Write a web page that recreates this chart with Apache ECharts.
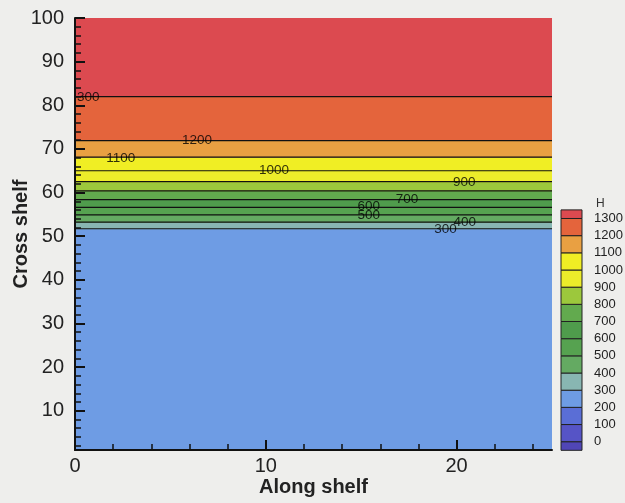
<!DOCTYPE html>
<html>
<head>
<meta charset="utf-8">
<script src="https://cdn.jsdelivr.net/npm/echarts@6/dist/echarts.min.js"></script>
<style>
html,body{margin:0;padding:0;background:#eeeeec;}
#chart{width:625px;height:503px;}
</style>
</head>
<body>
<div id="chart"></div>
<script>
// ---- data ----
const alongRange = [0, 25];
const crossRange = [1, 100];
// contour levels of H and the cross-shelf position where each sits
const hLevels = [300, 400, 500, 600, 700, 800, 900, 1000, 1100, 1200, 1300];
const levelCross = [51.7, 53.2, 54.9, 56.6, 58.4, 60.4, 62.5, 65.0, 68.1, 71.9, 82.0];
// contour labels as they appear
const labelText = ['300', '400', '500', '600', '700', '900', '1000', '1100', '1200', '300'];
const labelAlong = [19.42, 20.43, 15.39, 15.39, 17.4, 20.4, 10.43, 2.4, 6.39, 0.7];
const labelCross = [51.6, 53.2, 54.8, 56.9, 58.4, 62.4, 65.0, 67.8, 71.9, 81.9];
// colour bar
const barEdges = [-50, 0, 100, 200, 300, 400, 500, 600, 700, 800, 900, 1000, 1100, 1200, 1300, 1350];
const barTicks = [0, 100, 200, 300, 400, 500, 600, 700, 800, 900, 1000, 1100, 1200, 1300];
const barColors = ['#5046b6', '#5654c6', '#5a6ed6', '#6e9ce4', '#88b6b2', '#64aa62', '#56a250',
                   '#4f9c4c', '#62aa4e', '#9cc83c', '#ecec2a', '#f0ee24', '#e9a042', '#e4643c', '#dc4a50'];
// axis ticks
const xMajor = [0, 10, 20];
const xMinor = [2, 4, 6, 8, 12, 14, 16, 18, 22, 24];
const yMajor = [10, 20, 30, 40, 50, 60, 70, 80, 90, 100];
const yMinor = [2, 4, 6, 8, 12, 14, 16, 18, 22, 24, 26, 28, 32, 34, 36, 38, 42, 44, 46, 48,
                52, 54, 56, 58, 62, 64, 66, 68, 72, 74, 76, 78, 82, 84, 86, 88, 92, 94, 96, 98];

// bands of the field between contour lines
const bandEdges = [crossRange[0]].concat(levelCross, [crossRange[1]]);
const bandData = [];
for (let i = 0; i < bandEdges.length - 1; i++) {
  // lowest band is 200-300 (colour index 3)
  bandData.push([bandEdges[i], bandEdges[i + 1], i + 3]);
}
const barData = [];
for (let i = 0; i < barEdges.length - 1; i++) barData.push([barEdges[i], barEdges[i + 1], i]);
const labelData = labelText.map((t, i) => [labelAlong[i], labelCross[i], t]);

const FONT = '"Liberation Sans", Arial, sans-serif';
const plain = v => String(v);
const chart = echarts.init(document.getElementById('chart'));
chart.setOption({
  backgroundColor: '#eeeeec',
  animation: false,
  grid: [
    {left: 75, top: 18, width: 477, height: 432, containLabel: false, outerBoundsMode: 'none'},
    {left: 561, top: 209.9, width: 21, height: 240.4, containLabel: false, outerBoundsMode: 'none'}
  ],
  xAxis: [
    {gridIndex: 0, type: 'value', min: alongRange[0], max: alongRange[1], position: 'bottom', z: 10,
     axisLine: {onZero: false, lineStyle: {color: '#111', width: 2}},
     axisTick: {inside: true, length: 10, lineStyle: {color: '#111', width: 2}, customValues: xMajor},
     axisLabel: {customValues: xMajor, fontSize: 20, color: '#222', margin: 6, fontFamily: FONT, formatter: plain},
     splitLine: {show: false},
     name: 'Along shelf', nameLocation: 'middle', nameGap: 27, nameMoveOverlap: false,
     nameTextStyle: {fontSize: 20, fontWeight: 'bold', color: '#222', fontFamily: FONT}},
    {gridIndex: 0, type: 'value', min: alongRange[0], max: alongRange[1], position: 'bottom', z: 10,
     axisLine: {show: false, onZero: false},
     axisTick: {inside: true, length: 6, lineStyle: {color: '#111', width: 1.5}, customValues: xMinor},
     axisLabel: {show: false}, splitLine: {show: false}},
    {gridIndex: 1, type: 'value', min: 0, max: 1, show: false}
  ],
  yAxis: [
    {gridIndex: 0, type: 'value', min: crossRange[0], max: crossRange[1], position: 'left', z: 10,
     axisLine: {onZero: false, lineStyle: {color: '#111', width: 2}},
     axisTick: {inside: true, length: 10, lineStyle: {color: '#111', width: 2}, customValues: yMajor},
     axisLabel: {customValues: yMajor, fontSize: 20, color: '#222', margin: 11, fontFamily: FONT, formatter: plain},
     splitLine: {show: false},
     name: 'Cross shelf', nameLocation: 'middle', nameGap: 44, nameMoveOverlap: false,
     nameTextStyle: {fontSize: 20, fontWeight: 'bold', color: '#222', fontFamily: FONT}},
    {gridIndex: 0, type: 'value', min: crossRange[0], max: crossRange[1], position: 'left', z: 10,
     axisLine: {show: false, onZero: false},
     axisTick: {inside: true, length: 6, lineStyle: {color: '#111', width: 1.5}, customValues: yMinor},
     axisLabel: {show: false}, splitLine: {show: false}},
    {gridIndex: 1, type: 'value', min: barEdges[0], max: barEdges[barEdges.length - 1], position: 'right',
     axisLine: {show: false}, axisTick: {show: false}, splitLine: {show: false},
     axisLabel: {customValues: barTicks, fontSize: 13, color: '#222', margin: 12, fontFamily: FONT, formatter: plain}}
  ],
  graphic: [
    {type: 'text', left: 596, top: 198, z: 20,
     style: {text: 'H', fontSize: 12, fill: '#333', fontFamily: FONT}}
  ],
  series: [
    {type: 'custom', xAxisIndex: 0, yAxisIndex: 0, data: bandData, z: 1,
     renderItem: function (params, api) {
       const p0 = api.coord([alongRange[0], api.value(1)]);
       const p1 = api.coord([alongRange[1], api.value(0)]);
       return {type: 'rect', shape: {x: p0[0], y: p0[1], width: p1[0] - p0[0], height: p1[1] - p0[1] + 0.5},
               style: {fill: barColors[api.value(2)]}};
     }},
    {type: 'custom', xAxisIndex: 0, yAxisIndex: 0, data: levelCross.map((y, i) => [y, hLevels[i]]), z: 3,
     renderItem: function (params, api) {
       const p0 = api.coord([alongRange[0], api.value(0)]);
       const p1 = api.coord([alongRange[1], api.value(0)]);
       return {type: 'line', shape: {x1: p0[0], y1: p0[1], x2: p1[0], y2: p1[1]},
               style: {stroke: '#111', lineWidth: 1.2}};
     }},
    {type: 'scatter', xAxisIndex: 0, yAxisIndex: 0, data: labelData, symbolSize: 0, z: 4,
     label: {show: true, position: 'inside', color: '#000', fontSize: 13.5, fontFamily: FONT,
             formatter: p => p.value[2]}},
    {type: 'custom', xAxisIndex: 2, yAxisIndex: 2, data: barData, z: 3,
     renderItem: function (params, api) {
       const p0 = api.coord([0, api.value(1)]);
       const p1 = api.coord([1, api.value(0)]);
       return {type: 'rect', shape: {x: p0[0], y: p0[1], width: p1[0] - p0[0], height: p1[1] - p0[1]},
               style: {fill: barColors[api.value(2)], stroke: '#222', lineWidth: 1}};
     }}
  ]
});
</script>
</body>
</html>
